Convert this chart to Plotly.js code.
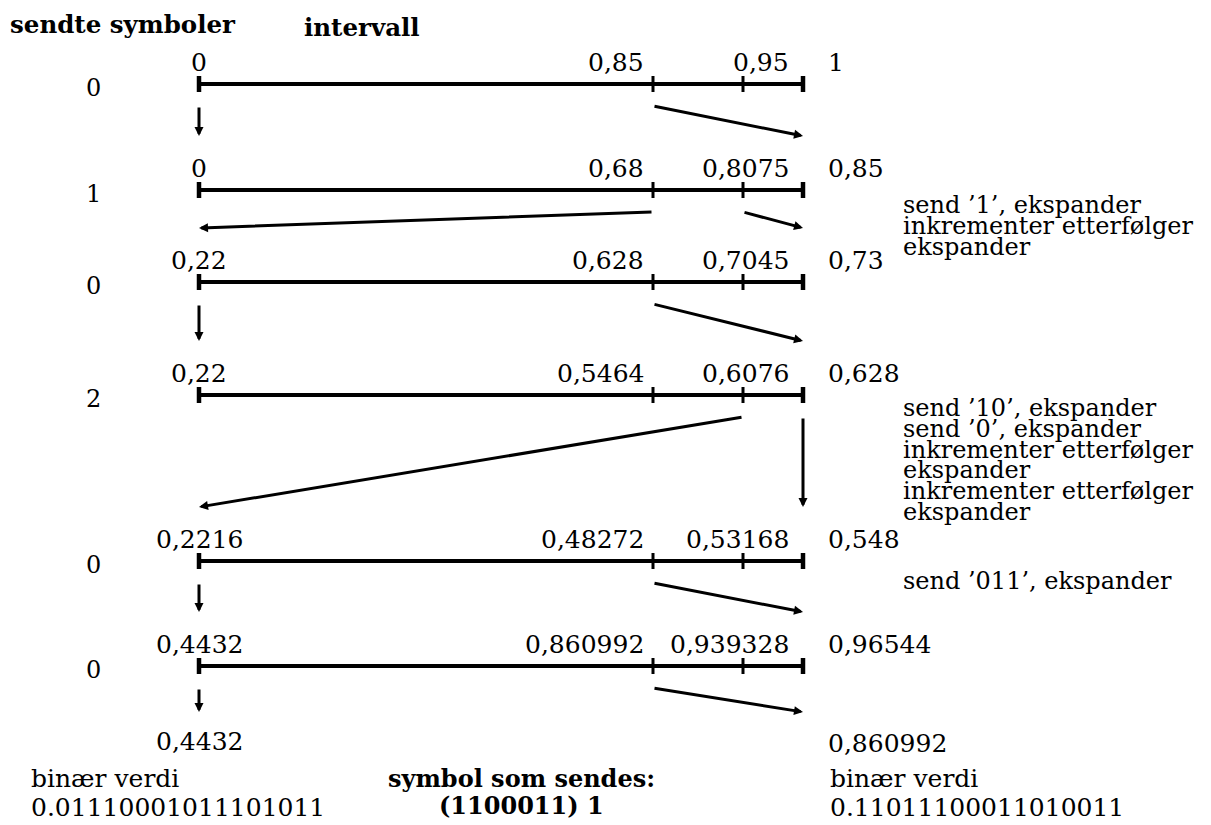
<!DOCTYPE html>
<html><head><meta charset="utf-8">
<script src="https://cdn.plot.ly/plotly-3.0.1.min.js"></script>
<style>html,body{margin:0;padding:0;background:#fff}</style>
</head><body><div id="chart" style="width:1211px;height:825px"></div>
<script>
// ---------- data ----------
const sentSymbols = ['0', '1', '0', '2', '0', '0'];
const lowValues  = [0, 0, 0.22, 0.22, 0.2216, 0.4432];
const cut1Values = [0.85, 0.68, 0.628, 0.5464, 0.48272, 0.860992];
const cut2Values = [0.95, 0.8075, 0.7045, 0.6076, 0.53168, 0.939328];
const highValues = [1, 0.85, 0.73, 0.628, 0.548, 0.96544];
const finalLow = 0.4432;
const finalHigh = 0.860992;
// transitions per row: [fromPoint, toPoint]; points 0=low, 1=cut1, 2=cut2, 3=high
const transitions = [
  [[0, 0], [1, 3]],
  [[1, 0], [2, 3]],
  [[0, 0], [1, 3]],
  [[2, 0], [3, 3]],
  [[0, 0], [1, 3]],
  [[0, 0], [1, 3]]
];
const notesA = ['send ’1’, ekspander', 'inkrementer etterfølger', 'ekspander'];
const notesB = ['send ’10’, ekspander', 'send ’0’, ekspander', 'inkrementer etterfølger', 'ekspander', 'inkrementer etterfølger', 'ekspander'];
const notesC = ['send ’011’, ekspander'];
const headerLeft = 'sendte symboler';
const headerMid = 'intervall';
const binLabel = 'binær verdi';
const binLow = '0.01110001011101011';
const binHigh = '0.11011100011010011';
const sentTitle = 'symbol som sendes:';
const sentCode = '(1100011) 1';

// ---------- layout geometry ----------
const X = [199, 653, 743, 803];
const rowY = [84, 190, 282, 395, 561, 666];
const nextY = [190, 282, 395, 561, 666, 766];
const FONT = 'DejaVu Serif';
const fmt = v => String(v).replace('.', ',');

const traces = [];
// interval lines
const lx = [], ly = [];
rowY.forEach(y => { lx.push(X[0], X[3], null); ly.push(y, y, null); });
traces.push({type: 'scatter', mode: 'lines', x: lx, y: ly, line: {color: '#000', width: 4}, hoverinfo: 'skip'});
// end ticks
const tx = [], ty = [];
rowY.forEach(y => { [0, 3].forEach(i => { tx.push(X[i], X[i], null); ty.push(y - 8, y + 8, null); }); });
traces.push({type: 'scatter', mode: 'lines', x: tx, y: ty, line: {color: '#000', width: 4.5}, hoverinfo: 'skip'});
// inner ticks
const ix = [], iy = [];
rowY.forEach(y => { [1, 2].forEach(i => { ix.push(X[i], X[i], null); iy.push(y - 8, y + 8, null); }); });
traces.push({type: 'scatter', mode: 'lines', x: ix, y: iy, line: {color: '#000', width: 3}, hoverinfo: 'skip'});

const ann = [];
function txt(text, x, y, xanchor, size, bold) {
  ann.push({text: bold ? '<b>' + text + '</b>' : text, x: x, y: y, xref: 'x', yref: 'y',
    xanchor: xanchor, yanchor: 'middle', showarrow: false,
    font: {family: FONT, size: size, color: '#000'}});
}
// headers
txt(headerLeft, 8, 24, 'left', 24.5, true);
txt(headerMid, 302, 27, 'left', 24.5, true);
// rows
rowY.forEach((y, r) => {
  txt(sentSymbols[r], 93, y + 4, 'center', 24, false);
  txt(fmt(lowValues[r]), X[0], y - 22, 'center', 25, false);
  txt(fmt(cut1Values[r]), 646, y - 22, 'right', 25, false);
  txt(fmt(cut2Values[r]), 791, y - 22, 'right', 25, false);
  txt(fmt(highValues[r]), 826, y - 22, 'left', 25, false);
  transitions[r].forEach(([f, t]) => {
    const tipY = r === rowY.length - 1 ? 712 : nextY[r] - 54;
    ann.push({text: '', x: X[t], y: tipY, ax: X[f], ay: y + 22, xref: 'x', yref: 'y', axref: 'x', ayref: 'y',
      showarrow: true, arrowhead: 2, arrowsize: 0.6, arrowwidth: 3, arrowcolor: '#000', standoff: 0, startstandoff: 0});
  });
});
// final interval
txt(fmt(finalLow), X[0], 741, 'center', 25, false);
txt(fmt(finalHigh), 826, 743, 'left', 25, false);
// action notes
notesA.forEach((s, i) => txt(s, 901, 205 + i * 21, 'left', 24, false));
notesB.forEach((s, i) => txt(s, 901, 408 + i * 20.8, 'left', 24, false));
notesC.forEach((s, i) => txt(s, 901, 581 + i * 21, 'left', 24, false));
// bottom
txt(binLabel, 29, 778, 'left', 25, false);
txt(binLow, 29, 807, 'left', 25, false);
txt(sentTitle, 521, 778, 'center', 24, true);
txt(sentCode, 521, 805, 'center', 24, true);
txt(binLabel, 828, 778, 'left', 25, false);
txt(binHigh, 828, 807, 'left', 25, false);

const layout = {
  width: 1211, height: 825, margin: {l: 0, r: 0, t: 0, b: 0},
  paper_bgcolor: '#fff', plot_bgcolor: '#fff', showlegend: false,
  xaxis: {range: [0, 1211], visible: false, fixedrange: true},
  yaxis: {range: [825, 0], visible: false, fixedrange: true},
  annotations: ann
};
Plotly.newPlot('chart', traces, layout, {staticPlot: true, displayModeBar: false});
</script></body></html>
